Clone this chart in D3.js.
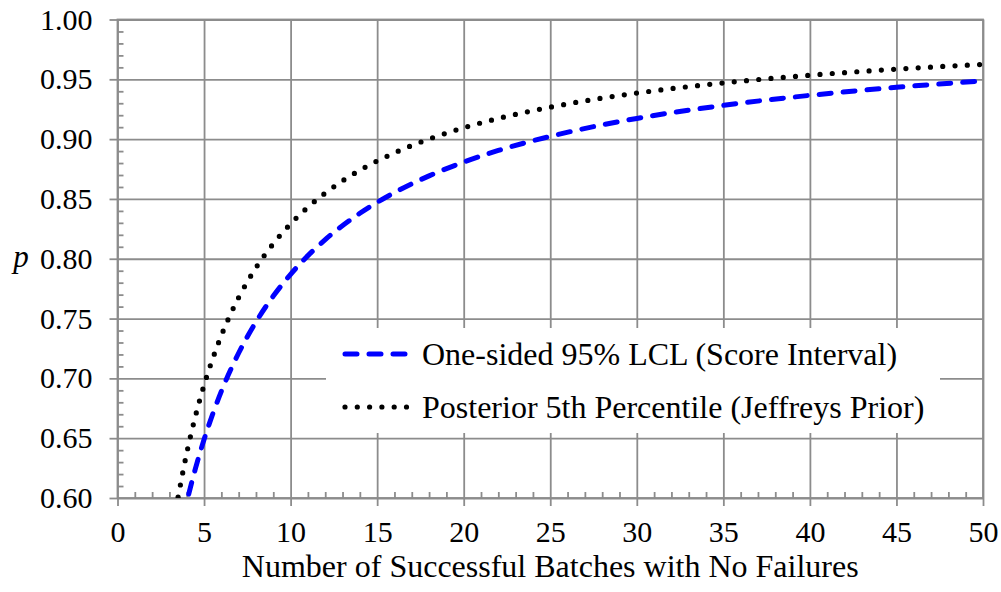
<!DOCTYPE html>
<html>
<head>
<meta charset="utf-8">
<script src="https://cdn.jsdelivr.net/npm/d3@7"></script>
<style>
  html, body { margin: 0; padding: 0; background: #fff; }
  svg { display: block; font-family: "Liberation Serif", "Times New Roman", serif; }
</style>
</head>
<body>
<svg id="chart" width="1001" height="592"></svg>
<script>
// Number of consecutive successful batches (no failures)
const batches = [3.5, 4, 4.5, 5, 5.5, 6, 7, 8, 9, 10, 11, 12, 14, 16, 18, 20, 22, 25, 28, 30, 35, 40, 45, 50];

// One-sided 95% lower confidence limit from the score interval
const scoreLCL = [0.5640, 0.5965, 0.6245, 0.6489, 0.6702, 0.6892, 0.7212, 0.7472, 0.7688, 0.7870,
                  0.8026, 0.8160, 0.8380, 0.8553, 0.8693, 0.8808, 0.8905, 0.9023, 0.9119, 0.9173,
                  0.9282, 0.9366, 0.9433, 0.9487];

// 5th percentile of the posterior under the Jeffreys prior
const jeffreys5 = [0.6007, 0.6376, 0.6683, 0.6943, 0.7165, 0.7359, 0.7676, 0.7925, 0.8126, 0.8292,
                   0.8431, 0.8549, 0.8740, 0.8885, 0.9001, 0.9095, 0.9173, 0.9267, 0.9343, 0.9385,
                   0.9470, 0.9534, 0.9585, 0.9625];

const xTicks = [0, 5, 10, 15, 20, 25, 30, 35, 40, 45, 50];
const yTicks = [0.60, 0.65, 0.70, 0.75, 0.80, 0.85, 0.90, 0.95, 1.00];

const seriesNames = ["One-sided 95% LCL (Score Interval)", "Posterior 5th Percentile (Jeffreys Prior)"];

const svg = d3.select("#chart");
const L = 117.5, R = 983, T = 19.5, B = 498;
const x = d3.scaleLinear().domain([0, 50]).range([L, R]);
const y = d3.scaleLinear().domain([0.60, 1.00]).range([B, T]);

const gridColor = "#8c8c8c";
const gridWidth = 1.8;
const serif = "Liberation Serif";

// Major gridlines
const gx = svg.append("g").attr("transform", `translate(0,${B})`)
  .call(d3.axisBottom(x).tickValues(xTicks).tickSizeInner(-(B - T)).tickSizeOuter(0).tickFormat(""));
const gy = svg.append("g").attr("transform", `translate(${L},0)`)
  .call(d3.axisLeft(y).tickValues(yTicks).tickSizeInner(-(R - L)).tickSizeOuter(0).tickFormat(""));

// Short outward major ticks with labels
const gxStub = svg.append("g").attr("transform", `translate(0,${B})`)
  .call(d3.axisBottom(x).tickValues(xTicks).tickSizeInner(8).tickSizeOuter(0).tickPadding(15)
        .tickFormat(d3.format("d")));
const gyStub = svg.append("g").attr("transform", `translate(${L},0)`)
  .call(d3.axisLeft(y).tickValues(yTicks).tickSizeInner(8).tickSizeOuter(0).tickPadding(17)
        .tickFormat(d3.format(".2f")));

// Minor ticks pointing into the plot
const xMinor = d3.range(1, 50).filter(v => v % 5 !== 0);
const yMinor = d3.range(61, 100).filter(v => v % 5 !== 0).map(v => v / 100);
const gxm = svg.append("g").attr("transform", `translate(0,${B})`)
  .call(d3.axisBottom(x).tickValues(xMinor).tickSizeInner(-6).tickSizeOuter(0).tickFormat(""));
const gym = svg.append("g").attr("transform", `translate(${L},0)`)
  .call(d3.axisLeft(y).tickValues(yMinor).tickSizeInner(-6).tickSizeOuter(0).tickFormat(""));

[gx, gxStub, gy, gyStub, gxm, gym].forEach(g => {
  g.attr("font-family", serif).attr("font-size", 30);
  g.select(".domain").remove();
  g.selectAll(".tick line").attr("stroke", gridColor).attr("stroke-width", gridWidth);
  g.selectAll(".tick text").attr("fill", "#000");
});

// Plot frame
svg.append("rect").attr("x", L).attr("y", T).attr("width", R - L).attr("height", B - T)
  .attr("fill", "none").attr("stroke", gridColor).attr("stroke-width", gridWidth);

// Legend background hides the grid behind it
const legX = 326, legY = 328, legW = 614, legH = 105;
svg.append("rect").attr("x", legX).attr("y", legY).attr("width", legW).attr("height", legH).attr("fill", "#fff");

// Curves, clipped to the plot area
svg.append("clipPath").attr("id", "plotClip")
  .append("rect").attr("x", L).attr("y", T).attr("width", R - L).attr("height", B - T);

const line = vals => d3.line().x((d, i) => x(batches[i])).y(d => y(d)).curve(d3.curveMonotoneX)(vals);

const styles = [
  { color: "#0000ff", width: 5, dash: "12 12", data: scoreLCL },
  { color: "#000000", width: 5.2, dash: "0 12.3", data: jeffreys5 }
];

styles.forEach(s => {
  svg.append("path").attr("clip-path", "url(#plotClip)")
    .attr("d", line(s.data)).attr("fill", "none")
    .attr("stroke", s.color).attr("stroke-width", s.width)
    .attr("stroke-dasharray", s.dash).attr("stroke-linecap", "round");
});

// Legend entries
const rows = [354, 407];
styles.forEach((s, i) => {
  svg.append("line").attr("x1", 345).attr("x2", 408).attr("y1", rows[i]).attr("y2", rows[i])
    .attr("stroke", s.color).attr("stroke-width", s.width)
    .attr("stroke-dasharray", s.dash).attr("stroke-linecap", "round");
  svg.append("text").attr("x", 422).attr("y", rows[i] + 11)
    .attr("font-family", serif).attr("font-size", 32).attr("fill", "#000").text(seriesNames[i]);
});

// Axis titles
svg.append("text").attr("x", (L + R) / 2).attr("y", 577).attr("text-anchor", "middle")
  .attr("font-family", serif).attr("font-size", 32).attr("fill", "#000")
  .text("Number of Successful Batches with No Failures");
svg.append("text").attr("x", 21).attr("y", 267).attr("text-anchor", "middle")
  .attr("font-family", serif).attr("font-size", 31).attr("font-style", "italic").attr("fill", "#000").text("p");
</script>
</body>
</html>
